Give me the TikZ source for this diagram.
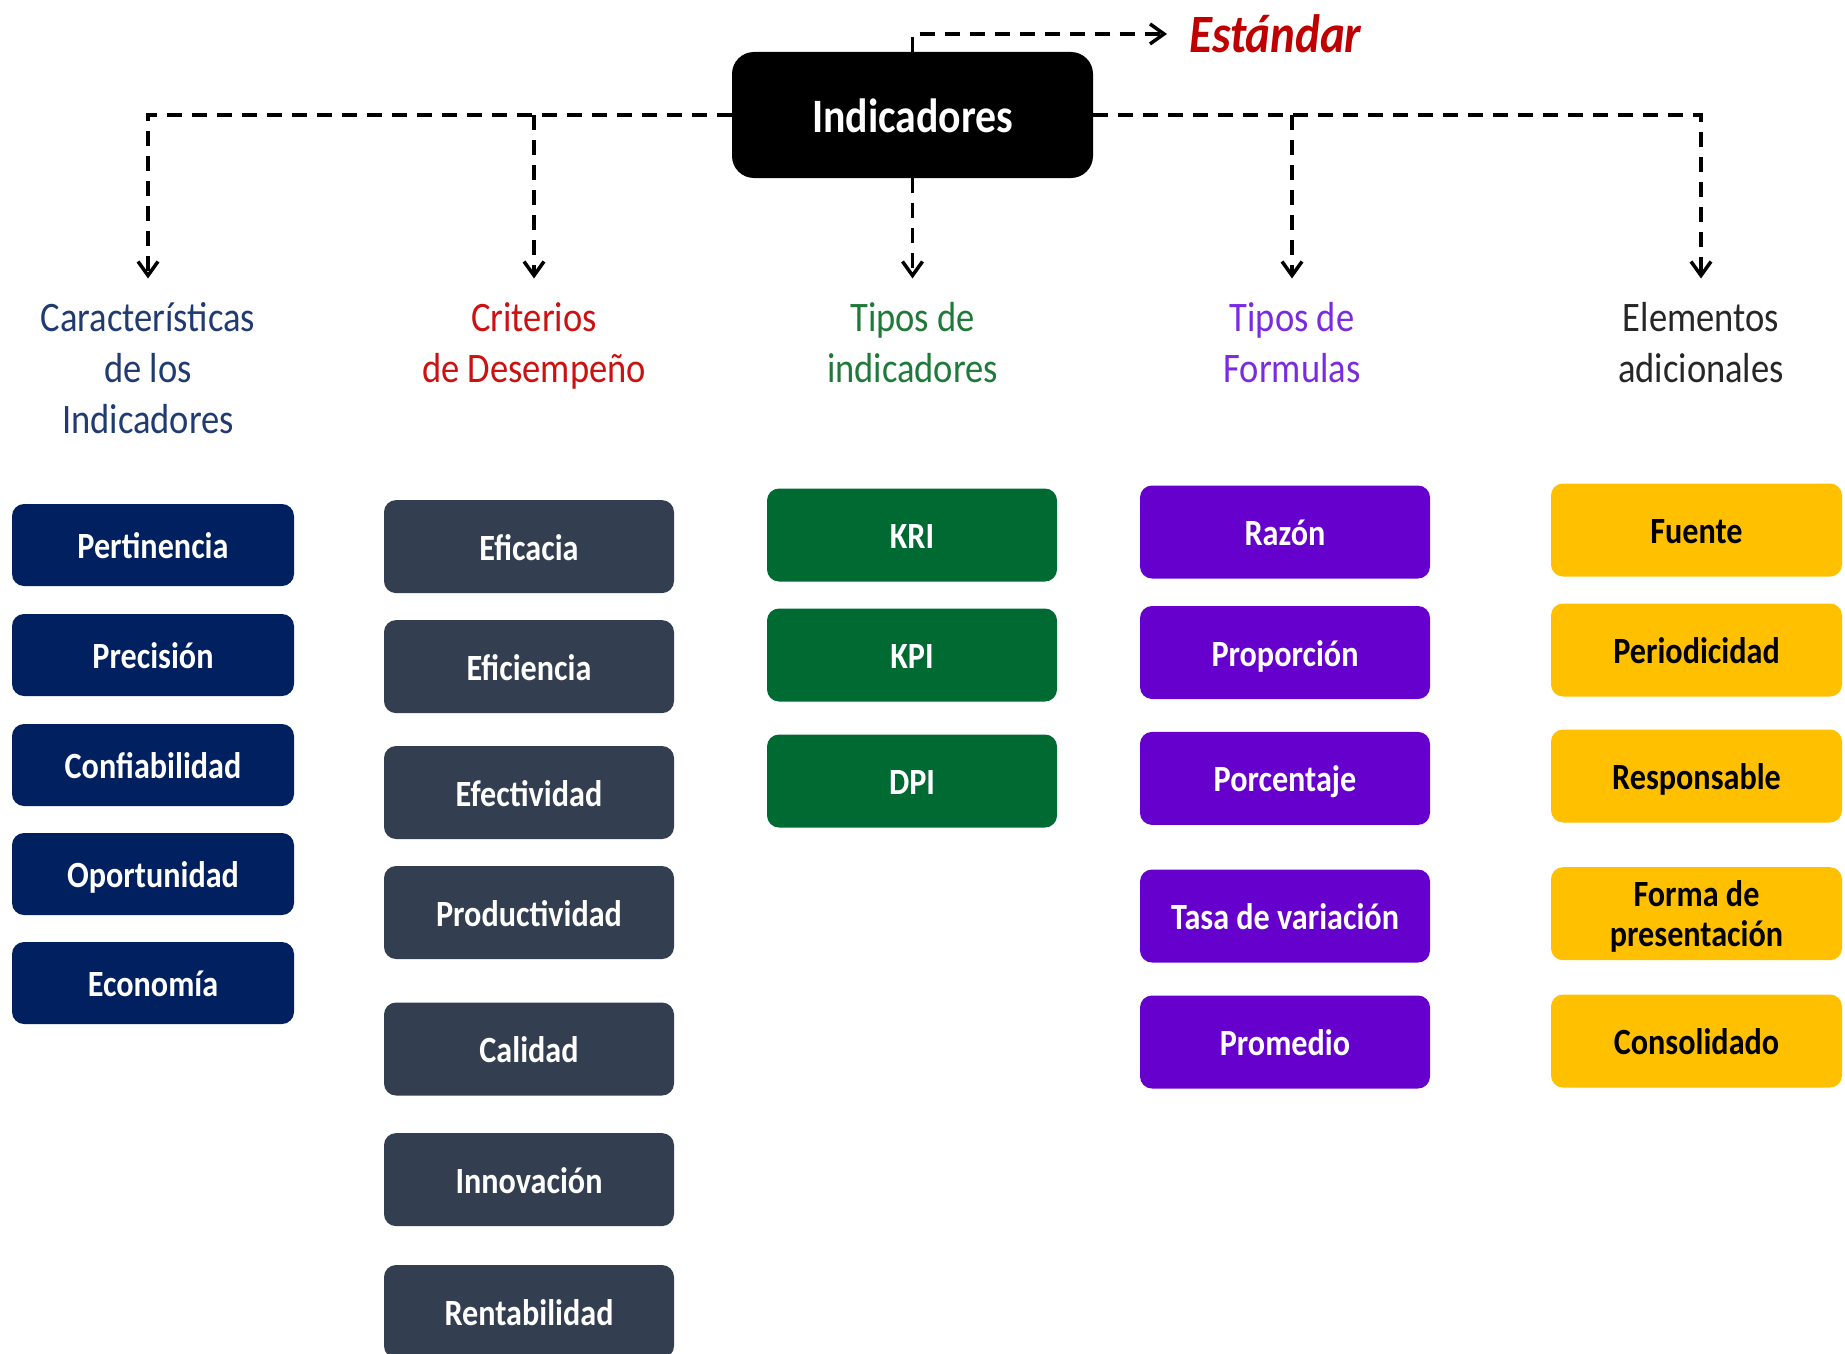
\documentclass[tikz,border=0pt]{standalone}
\usepackage{fontspec}
\setmainfont{Carlito}[FakeStretch=0.87]
\usetikzlibrary{arrows.meta}
\definecolor{cnavy}{HTML}{002060}
\definecolor{cslate}{HTML}{333F50}
\definecolor{cgreen}{HTML}{006A33}
\definecolor{cpurple}{HTML}{6600CC}
\definecolor{cgold}{HTML}{FFC000}
\definecolor{estred}{HTML}{C00000}
\definecolor{hnavy}{HTML}{203A72}
\definecolor{hred}{HTML}{CC1111}
\definecolor{hgreen}{HTML}{1F7A3A}
\definecolor{hpurple}{HTML}{7A2BE0}
\definecolor{hgray}{HTML}{262626}
\begin{document}
\begin{tikzpicture}[x=1pt,y=-1pt,
  conn/.style={line width=3.5pt, dash pattern=on 15pt off 10pt,
    -{Straight Barb[length=14pt,width=20pt]}},
  kbox/.style={rectangle, rounded corners=12pt, inner sep=0pt,
    font=\bfseries\fontsize{37}{40}\selectfont, align=center},
  one/.style={text height=27pt, text depth=0pt},
  c1/.style={kbox, fill=cnavy, text=white, minimum width=282pt, minimum height=82pt},
  c2/.style={kbox, fill=cslate, text=white, minimum width=290pt, minimum height=93pt},
  c3/.style={kbox, fill=cgreen, text=white, minimum width=290pt, minimum height=93pt},
  c4/.style={kbox, fill=cpurple, text=white, minimum width=290pt, minimum height=93pt},
  c5/.style={kbox, fill=cgold, text=black, minimum width=291pt, minimum height=93pt},
  head/.style={anchor=north, inner sep=0pt, align=center,
    font=\fontsize{42}{51}\selectfont}
]
\useasboundingbox (0,0) rectangle (1845,1354);

% root
\node[fill=black, rounded corners=22pt, minimum width=361pt, minimum height=126pt,
  text=white, font=\bfseries\fontsize{48}{52}\selectfont,
  text height=34pt, text depth=0pt] (ind) at (912.5,115) {Indicadores};
\node[anchor=base west, inner sep=0pt, text=estred,
  font=\bfseries\itshape\fontsize{54}{60}\selectfont] (est) at (1189,52.7) {Estándar};

% headings
\node[head, text=hnavy] (h1) at (148,302.5) {Características\\de los\\Indicadores};
\node[head, text=hred] (h2) at (534,302.5) {Criterios\\de Desempeño};
\node[head, text=hgreen] (h3) at (912.5,302.5) {Tipos de\\indicadores};
\node[head, text=hpurple] (h4) at (1292,302.5) {Tipos de\\Formulas};
\node[head, text=hgray] (h5) at (1701,302.5) {Elementos\\adicionales};

% connectors
\draw[conn] (ind.north) |- ([xshift=-22pt]est.west);
\draw[conn] (ind.west) -| ([yshift=24pt]h1.north);
\draw[conn] (ind.west -| h2.north) -- ([yshift=24pt]h2.north);
\draw[conn] (ind.south) -- ([yshift=24pt]h3.north);
\draw[conn] (ind.east -| h4.north) -- ([yshift=24pt]h4.north);
\draw[conn] (ind.east) -| ([yshift=24pt]h5.north);

% column 1
\node[c1,one] (a1) at (153,545) {Pertinencia};
\node[c1,one] (a2) at (153,655) {Precisión};
\node[c1,one] (a3) at (153,765) {Confiabilidad};
\node[c1,one] (a4) at (153,874) {Oportunidad};
\node[c1,one] (a5) at (153,983) {Economía};

% column 2
\node[c2,one] (b1) at (529,546.6) {Eficacia};
\node[c2,one] (b2) at (529,666.6) {Eficiencia};
\node[c2,one] (b3) at (529,792.5) {Efectividad};
\node[c2,one] (b4) at (529,912.5) {Productividad};
\node[c2,one] (b5) at (529,1049) {Calidad};
\node[c2,one] (b6) at (529,1179.6) {Innovación};
\node[c2,one] (b7) at (529,1311.5) {Rentabilidad};

% column 3
\node[c3,one] (d1) at (912,535) {KRI};
\node[c3,one] (d2) at (912,655) {KPI};
\node[c3,one] (d3) at (912,781) {DPI};

% column 4
\node[c4,one] (e1) at (1285,532) {Razón};
\node[c4,one] (e2) at (1285,652.5) {Proporción};
\node[c4,one] (e3) at (1285,778.4) {Porcentaje};
\node[c4,one] (e4) at (1285,916) {Tasa de variación};
\node[c4,one] (e5) at (1285,1042) {Promedio};

% column 5
\node[c5,one] (f1) at (1696.5,530) {Fuente};
\node[c5,one] (f2) at (1696.5,650) {Periodicidad};
\node[c5,one] (f3) at (1696.5,776) {Responsable};
\node[c5, text height=66pt, text depth=1.4pt] (f4) at (1696.5,913.7) {Forma de\\presentación};
\node[c5,one] (f5) at (1696.5,1041) {Consolidado};
\end{tikzpicture}
\end{document}
